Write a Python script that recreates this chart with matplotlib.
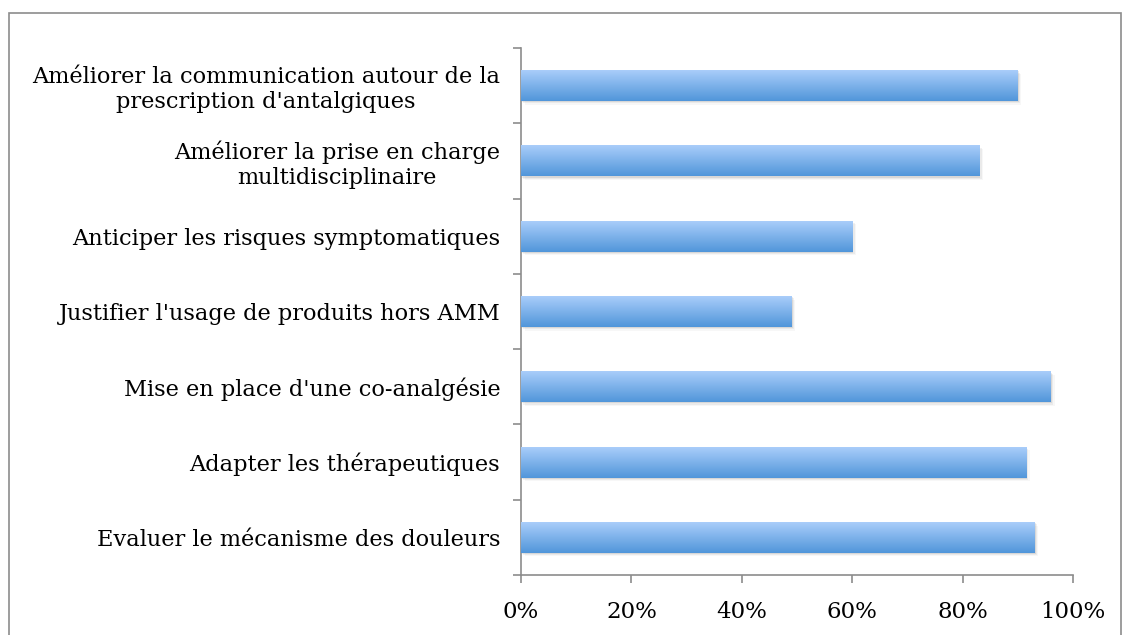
import matplotlib
matplotlib.use("Agg")
import matplotlib.pyplot as plt
import numpy as np
from matplotlib.patches import Rectangle
from matplotlib.colors import LinearSegmentedColormap

categories = [
    "Améliorer la communication autour de la\nprescription d'antalgiques",
    "Améliorer la prise en charge\nmultidisciplinaire",
    "Anticiper les risques symptomatiques",
    "Justifier l'usage de produits hors AMM",
    "Mise en place d'une co-analgésie",
    "Adapter les thérapeutiques",
    "Evaluer le mécanisme des douleurs",
]
values = [0.90, 0.83, 0.60, 0.49, 0.96, 0.915, 0.93]
xticks = [0, 0.2, 0.4, 0.6, 0.8, 1.0]
xticklabels = ["0%", "20%", "40%", "60%", "80%", "100%"]

plt.rcParams['font.family'] = ['DejaVu Serif']

fig = plt.figure(figsize=(11.3, 6.35), dpi=100)
ax = fig.add_axes([521/1130, 1-575/635, (1073-521)/1130, (575-48)/635])

cats = categories[::-1]
vals = values[::-1]
ypos = np.arange(len(cats))
h = 0.41

bars = ax.barh(ypos, vals, height=h, color='none', edgecolor='none', zorder=3)

cmap = LinearSegmentedColormap.from_list("g", ["#a9cdfa", "#5196da"])
grad = np.linspace(0, 1, 100).reshape(-1, 1)
for b in bars:
    x0, y0 = b.get_x(), b.get_y()
    w, hh = b.get_width(), b.get_height()
    for k, a in zip([1, 2, 3], [0.10, 0.07, 0.04]):
        dx = k * 1.2 / 552
        dy = k * 1.2 / 75.4
        ax.add_patch(Rectangle((x0 + dx, y0 - dy), w, hh, facecolor='#404040',
                               edgecolor='none', alpha=a, zorder=2))
    ax.imshow(grad, extent=[x0, x0 + w, y0, y0 + hh], aspect='auto', cmap=cmap,
              origin='upper', zorder=3)

ax.set_xlim(0, 1)
ax.set_ylim(-0.5, len(cats) - 0.5)

ax.set_yticks(ypos)
ax.set_yticklabels(cats, fontsize=16.2, multialignment='center', linespacing=1.17)
ax.tick_params(axis='y', which='major', length=0, pad=15)
ax.set_yticks(np.arange(-0.5, len(cats), 1.0), minor=True)
ax.tick_params(axis='y', which='minor', length=6, color='#8c8c8c', width=1.2)

ax.set_xticks(xticks)
ax.set_xticklabels(xticklabels, fontsize=16.5)
ax.tick_params(axis='x', length=6, color='#8c8c8c', width=1.2, pad=13)

for s in ['top', 'right']:
    ax.spines[s].set_visible(False)
for s in ['left', 'bottom']:
    ax.spines[s].set_color('#8c8c8c')
    ax.spines[s].set_linewidth(1.2)

fig.patches.append(Rectangle((9/1130, -0.1), (1121-9)/1130, 1.1 - 13/635,
                             transform=fig.transFigure, fill=False,
                             edgecolor='#8c8c8c', linewidth=1.2))

fig.savefig("out.png", dpi=100)
